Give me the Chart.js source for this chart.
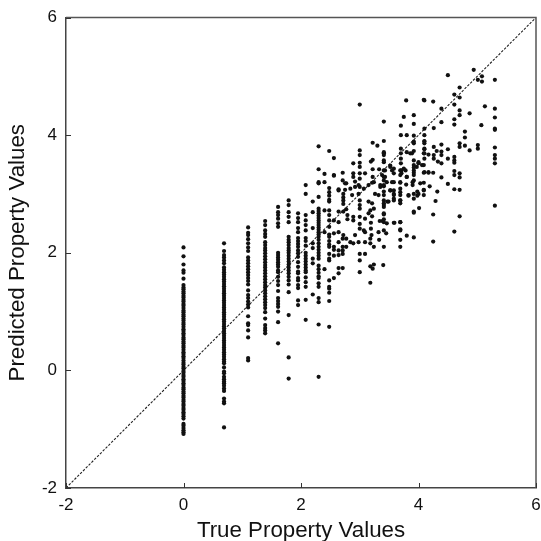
<!DOCTYPE html>
<html>
<head>
<meta charset="utf-8">
<title>True vs predicted property values</title>
<script src="https://cdn.jsdelivr.net/npm/chart.js@4"></script>
<style>
  html, body { margin: 0; padding: 0; background: #fff; }
  canvas { display: block; }
</style>
</head>
<body>
<canvas id="myChart" width="541" height="541"></canvas>
<script>
// columns: each true value has a list of predicted values
var col0 = [2.09,1.94,1.80,1.70,1.66,1.56,1.45,1.41,1.38,1.34,1.31,1.27,1.24,1.2,1.17,1.13,1.1,1.06,1.02,0.99,0.95,0.92,0.88,0.85,0.81,0.78,0.74,0.7,0.67,0.63,0.6,0.56,0.53,0.49,0.46,0.42,0.39,0.35,0.31,0.28,0.24,0.21,0.17,0.13,0.1,0.06,0.03,-0.01,-0.04,-0.08,-0.11,-0.15,-0.18,-0.22,-0.25,-0.29,-0.32,-0.36,-0.39,-0.43,-0.46,-0.5,-0.53,-0.57,-0.6,-0.64,-0.67,-0.71,-0.74,-0.78,-0.82,-0.91,-0.94,-0.98,-1.02,-1.05,-1.08];
var col069 = [2.16,2.03,1.96,1.92,1.87,1.82,1.75,1.71,1.67,1.63,1.59,1.55,1.51,1.47,1.43,1.39,1.35,1.31,1.27,1.23,1.19,1.15,1.11,1.07,1.03,0.99,0.95,0.91,0.87,0.83,0.79,0.75,0.71,0.67,0.63,0.59,0.55,0.51,0.47,0.43,0.39,0.35,0.31,0.27,0.23,0.19,0.15,0.12,0.05,-0.02,-0.05,-0.11,-0.15,-0.19,-0.22,-0.26,-0.31,-0.35,-0.48,-0.53,-0.56,-0.97];
var col110 = [2.43,2.34,2.30,2.23,2.16,2.09,2.03,1.92,1.87,1.82,1.77,1.72,1.67,1.62,1.57,1.52,1.46,1.36,1.28,1.23,1.17,1.12,1.07,0.92,0.80,0.77,0.68,0.56,0.21,0.17];
var col139 = [2.54,2.47,2.38,2.32,2.27,2.18,2.13,2.08,2.04,1.99,1.94,1.89,1.84,1.79,1.75,1.7,1.65,1.6,1.55,1.5,1.45,1.41,1.36,1.31,1.26,1.21,1.16,1.11,1.06,0.99,0.88,0.77,0.72,0.68,0.63];
var col161 = [2.78,2.69,2.64,2.58,2.5,2.44,2.0,1.96,1.92,1.88,1.84,1.8,1.76,1.7,1.67,1.59,1.52,1.45,1.35,1.23,1.18,1.13,1.08,1.0,0.82,0.46];
var col179 = [2.89,2.81,2.69,2.61,2.52,2.27,2.22,2.18,2.13,2.08,2.04,2.0,1.95,1.9,1.85,1.8,1.75,1.7,1.65,1.59,1.53,1.46,1.33,0.94,0.22,-0.14];
var col195 = [2.67,2.59,2.52,2.42,2.35,2.25,2.2,2.15,2.1,2.04,1.99,1.93,1.84,1.76,1.68,1.65,1.57,1.53,1.45,1.4,1.19,1.11];
var col208 = [3.15,3.0,2.64,2.55,2.47,2.38,2.25,2.2,2.12,2.0,1.95,1.9,1.85,1.8,1.75,1.7,1.67,1.58,1.5,1.42,1.2,0.86];
var col220 = [2.87,2.69,2.42,2.16,2.08,1.9,1.82,1.29];
var col230 = [3.81,3.42,3.2,3.18,2.95,2.75,2.71,2.67,2.63,2.59,2.55,2.51,2.47,2.43,2.39,2.35,2.31,2.27,2.22,2.16,2.1,2.05,2.0,1.95,1.9,1.78,1.72,1.66,1.6,1.57,1.48,1.42,1.23,1.16,0.78,-0.11];
var col240 = [3.34,3.2,2.72,2.35,1.72];
var col248 = [3.73,3.1,3.03,2.97,2.9,2.87,2.72,2.64,2.55,2.44,2.31,2.27,2.2,2.14,2.1,1.98,1.9,1.87,1.53,1.42,1.39,1.32,1.18,0.74];
var col256 = [3.61,3.32,3.31,2.55,2.33,2.1,2.05,1.95,1.57];
var col264 = [3.08,3.06,2.7,2.52,2.35,2.18,2.04,1.96,1.74,1.65];
// the cloud on the right has no clean columns, so x and y are kept side by side
var cloudX = [3.0,3.79,4.1,3.41,3.75,3.92,3.7,3.92,3.7,3.8,3.92,4.1,4.1,4.1,4.1,3.22,3.3,3.41,3.0,3.0,3.41,3.41,3.41,3.19,3.22,2.89,3.0,3.0,2.71,2.89,2.89,3.0,3.0,3.09,3.22,3.22,3.33,3.43,3.52,3.55,3.58,3.7,3.7,3.7,3.7,3.8,3.89,3.92,3.92,3.92,3.92,3.92,3.71,3.71,3.78,4.1,4.1,4.1,4.0,4.06,4.17,4.1,3.8,3.41,3.41,3.24,3.55,3.69,4.03,
  4.94,4.5,5.08,5.01,5.08,5.3,4.7,4.61,4.7,4.61,5.13,5.3,5.3,5.3,5.3,4.7,4.7,4.87,4.39,4.61,4.61,4.39,5.07,4.09,4.25,4.26,4.79,4.79,4.7,4.7,4.79,4.87,5.01,5.01,5.3,5.3,5.3,5.3,5.3,4.26,4.39,4.5,4.1,4.1,3.92,3.92,3.92,3.86,4.09,4.17,4.26,4.26,4.31,4.39,4.39,4.33,4.39,4.5,4.61,4.61,4.61,4.61,4.61,4.7,4.7,4.39,4.5,4.61,4.7,4.09,4.17,4.25,4.09,4.19,4.32,4.09,4.09,3.98,3.98,4.29,4.01,3.92,4.25,4.7,3.92,3.92,4.0,4.09,3.97,3.75,3.69,3.69,3.8,3.9,3.9,3.79,3.69,3.69,3.69,3.69,3.69,3.83,3.92,3.58,3.52,3.58,3.58,3.58,3.46,3.47,3.41,3.41,3.41,3.41,3.35,3.41,3.38,3.43,3.41,3.58,3.52,3.41,3.41,3.69,3.58,3.46,3.39,3.69,
  2.75,2.92,2.92,2.98,2.84,2.75,2.72,2.72,2.72,2.72,2.87,2.98,3.07,3.15,3.21,3.0,3.0,3.0,3.15,3.21,3.24,3.41,3.35,3.32,3.26,3.41,3.41,3.41,3.52,3.58,3.58,3.69,3.69,3.49,3.83,3.92,4.0,4.09,3.92,2.72,2.77,2.89,2.89,2.79,2.79,3.0,3.18,3.15,3.21,3.09,3.41,3.41,3.34,3.41,3.59,3.69,3.19,3.0,3.0,3.07,3.09,2.92,3.19,3.32,3.41,3.45,3.69,3.2,3.18,3.33,3.69,3.8,3.92,2.72,2.71,2.77,2.84,2.89,2.98,3.09,3.18,3.24,3.41,3.69,2.71,2.77,2.71,2.71,3.0,3.09,3.0,3.24,3.18,3.22,2.71,
  2.71,2.77,3.0,4.61,4.25,3.18,3.4,3.0];
var cloudY = [4.52,4.59,4.59,4.23,4.31,4.34,4.16,4.19,4.0,4.0,3.99,4.11,4.0,3.9,3.86,3.87,3.82,3.9,3.74,3.66,3.71,3.66,3.54,3.55,3.58,3.52,3.53,3.46,3.36,3.35,3.29,3.35,3.26,3.35,3.42,3.29,3.42,3.4,3.48,3.4,3.35,3.77,3.69,3.6,3.52,3.71,3.69,3.57,3.49,3.4,3.32,3.23,3.4,3.35,3.4,3.77,3.69,3.6,3.54,3.49,3.37,3.37,3.29,3.29,3.23,3.2,3.2,3.2,3.18,
  5.11,5.02,5.0,4.94,4.91,4.94,4.81,4.69,4.64,4.52,4.49,4.45,4.3,4.11,4.09,4.42,4.34,4.37,4.45,4.27,4.18,4.22,4.17,4.6,4.57,4.12,4.06,3.96,3.86,3.8,3.82,3.74,3.83,3.77,3.79,3.66,3.6,3.52,2.8,3.8,3.84,3.76,3.89,3.76,3.89,3.86,3.73,3.69,3.69,3.67,3.66,3.6,3.73,3.72,3.66,3.55,3.52,3.6,3.63,3.57,3.53,3.39,3.32,3.35,3.28,3.28,3.17,3.08,3.07,3.36,3.36,3.36,3.19,3.13,3.04,3.07,2.98,3.04,2.97,2.88,2.76,2.68,2.65,2.62,3.45,3.36,3.52,3.49,3.46,3.43,3.4,3.32,3.29,3.2,3.15,3.16,3.19,3.09,3.03,2.98,2.89,2.97,2.92,3.2,3.06,3.06,2.98,2.92,3.2,2.87,2.98,2.89,2.81,2.65,3.12,3.13,3.32,3.29,3.4,3.43,3.46,3.69,3.57,2.52,2.51,2.5,2.54,2.4,
  3.18,3.21,3.12,3.15,3.09,3.07,3.0,2.94,2.89,2.83,2.98,3.0,3.09,3.15,3.19,2.89,2.81,2.75,2.87,2.84,2.75,3.15,3.15,2.98,3.0,3.04,2.84,2.78,3.06,3.0,2.89,2.89,2.84,2.87,2.98,3.0,3.0,3.06,2.7,2.7,2.74,2.61,2.55,2.64,2.57,2.61,2.72,2.67,2.62,2.58,2.67,2.57,2.54,2.52,2.51,2.52,2.51,2.49,2.41,2.38,2.35,2.3,2.41,2.35,2.38,2.33,2.38,2.3,2.24,2.22,2.22,2.29,2.26,2.3,2.24,2.24,2.18,2.16,2.18,2.18,2.16,2.1,2.1,2.1,2.1,2.1,2.04,1.98,1.98,1.98,1.87,1.8,1.77,1.73,1.74,
  3.23,3.18,3.12,2.36,2.19,1.49,1.79,1.67];
var trueValues = [0, 0.69, 1.1, 1.39, 1.61, 1.79, 1.95, 2.08, 2.2, 2.3, 2.4, 2.48, 2.56, 2.64];
var predictedValues = [col0, col069, col110, col139, col161, col179, col195, col208, col220, col230, col240, col248, col256, col264];
var lineEnds = [-2, 6];
var tickValues = [-2, 0, 2, 4, 6];

var points = [];
trueValues.forEach(function (x, i) {
  predictedValues[i].forEach(function (y) {
    points.push({ x: x, y: y });
  });
});
cloudX.forEach(function (x, i) {
  points.push({ x: x, y: cloudY[i] });
});

// top and right edges plus the short inward ticks
var frame = {
  id: 'frame',
  afterDatasetsDraw: function (chart) {
    var a = chart.chartArea;
    var c = chart.ctx;
    c.save();
    c.strokeStyle = '#555';
    c.lineWidth = 1.5;
    c.beginPath();
    c.moveTo(a.left, a.top);
    c.lineTo(a.right, a.top);
    c.lineTo(a.right, a.bottom);
    c.stroke();
    c.strokeStyle = '#333';
    c.lineWidth = 1;
    c.beginPath();
    tickValues.forEach(function (v) {
      var px = Math.round(chart.scales.x.getPixelForValue(v)) + 0.5;
      var py = Math.round(chart.scales.y.getPixelForValue(v)) + 0.5;
      c.moveTo(px, a.bottom);
      c.lineTo(px, a.bottom - 5);
      c.moveTo(a.left, py);
      c.lineTo(a.left + 5, py);
    });
    c.stroke();
    c.restore();
  }
};

function axis(titleText, titlePad, tickPad, size) {
  return {
    type: 'linear',
    min: -2,
    max: 6,
    afterBuildTicks: function (scale) {
      scale.ticks = tickValues.map(function (v) { return { value: v }; });
    },
    afterFit: function (scale) {
      scale.paddingLeft = 0;
      scale.paddingRight = 0;
      scale.paddingTop = 0;
      scale.paddingBottom = 0;
      if (scale.isHorizontal()) { scale.height = size; } else { scale.width = size; }
    },
    grid: { display: true, drawOnChartArea: false, drawTicks: false },
    border: { display: true, color: '#444', width: 1.5 },
    ticks: {
      autoSkip: false,
      maxRotation: 0,
      padding: tickPad,
      color: '#111',
      font: { family: '"Liberation Sans", Arial, sans-serif', size: 17 }
    },
    title: {
      display: true,
      text: titleText,
      color: '#111',
      padding: titlePad,
      font: { family: '"Liberation Sans", Arial, sans-serif', size: 22.3 }
    }
  };
}

var ctx = document.getElementById('myChart').getContext('2d');
var myChart = new Chart(ctx, {
  type: 'scatter',
  data: {
    datasets: [{
      data: points,
      backgroundColor: '#111',
      borderWidth: 0,
      pointRadius: 2.1
    }, {
      type: 'line',
      data: lineEnds.map(function (v) { return { x: v, y: v }; }),
      borderColor: '#222',
      borderWidth: 1.1,
      borderDash: [2.5, 1.5],
      pointRadius: 0,
      fill: false
    }]
  },
  options: {
    responsive: false,
    animation: false,
    layout: { padding: { top: 17.5, right: 5, left: 0, bottom: 0 } },
    plugins: { legend: { display: false }, tooltip: { enabled: false } },
    scales: {
      x: axis('True Property Values', { top: 4, bottom: -3 }, 7, 53),
      y: axis('Predicted Property Values', { top: 4, bottom: 6 }, 9, 66)
    }
  },
  plugins: [frame]
});
</script>
</body>
</html>
